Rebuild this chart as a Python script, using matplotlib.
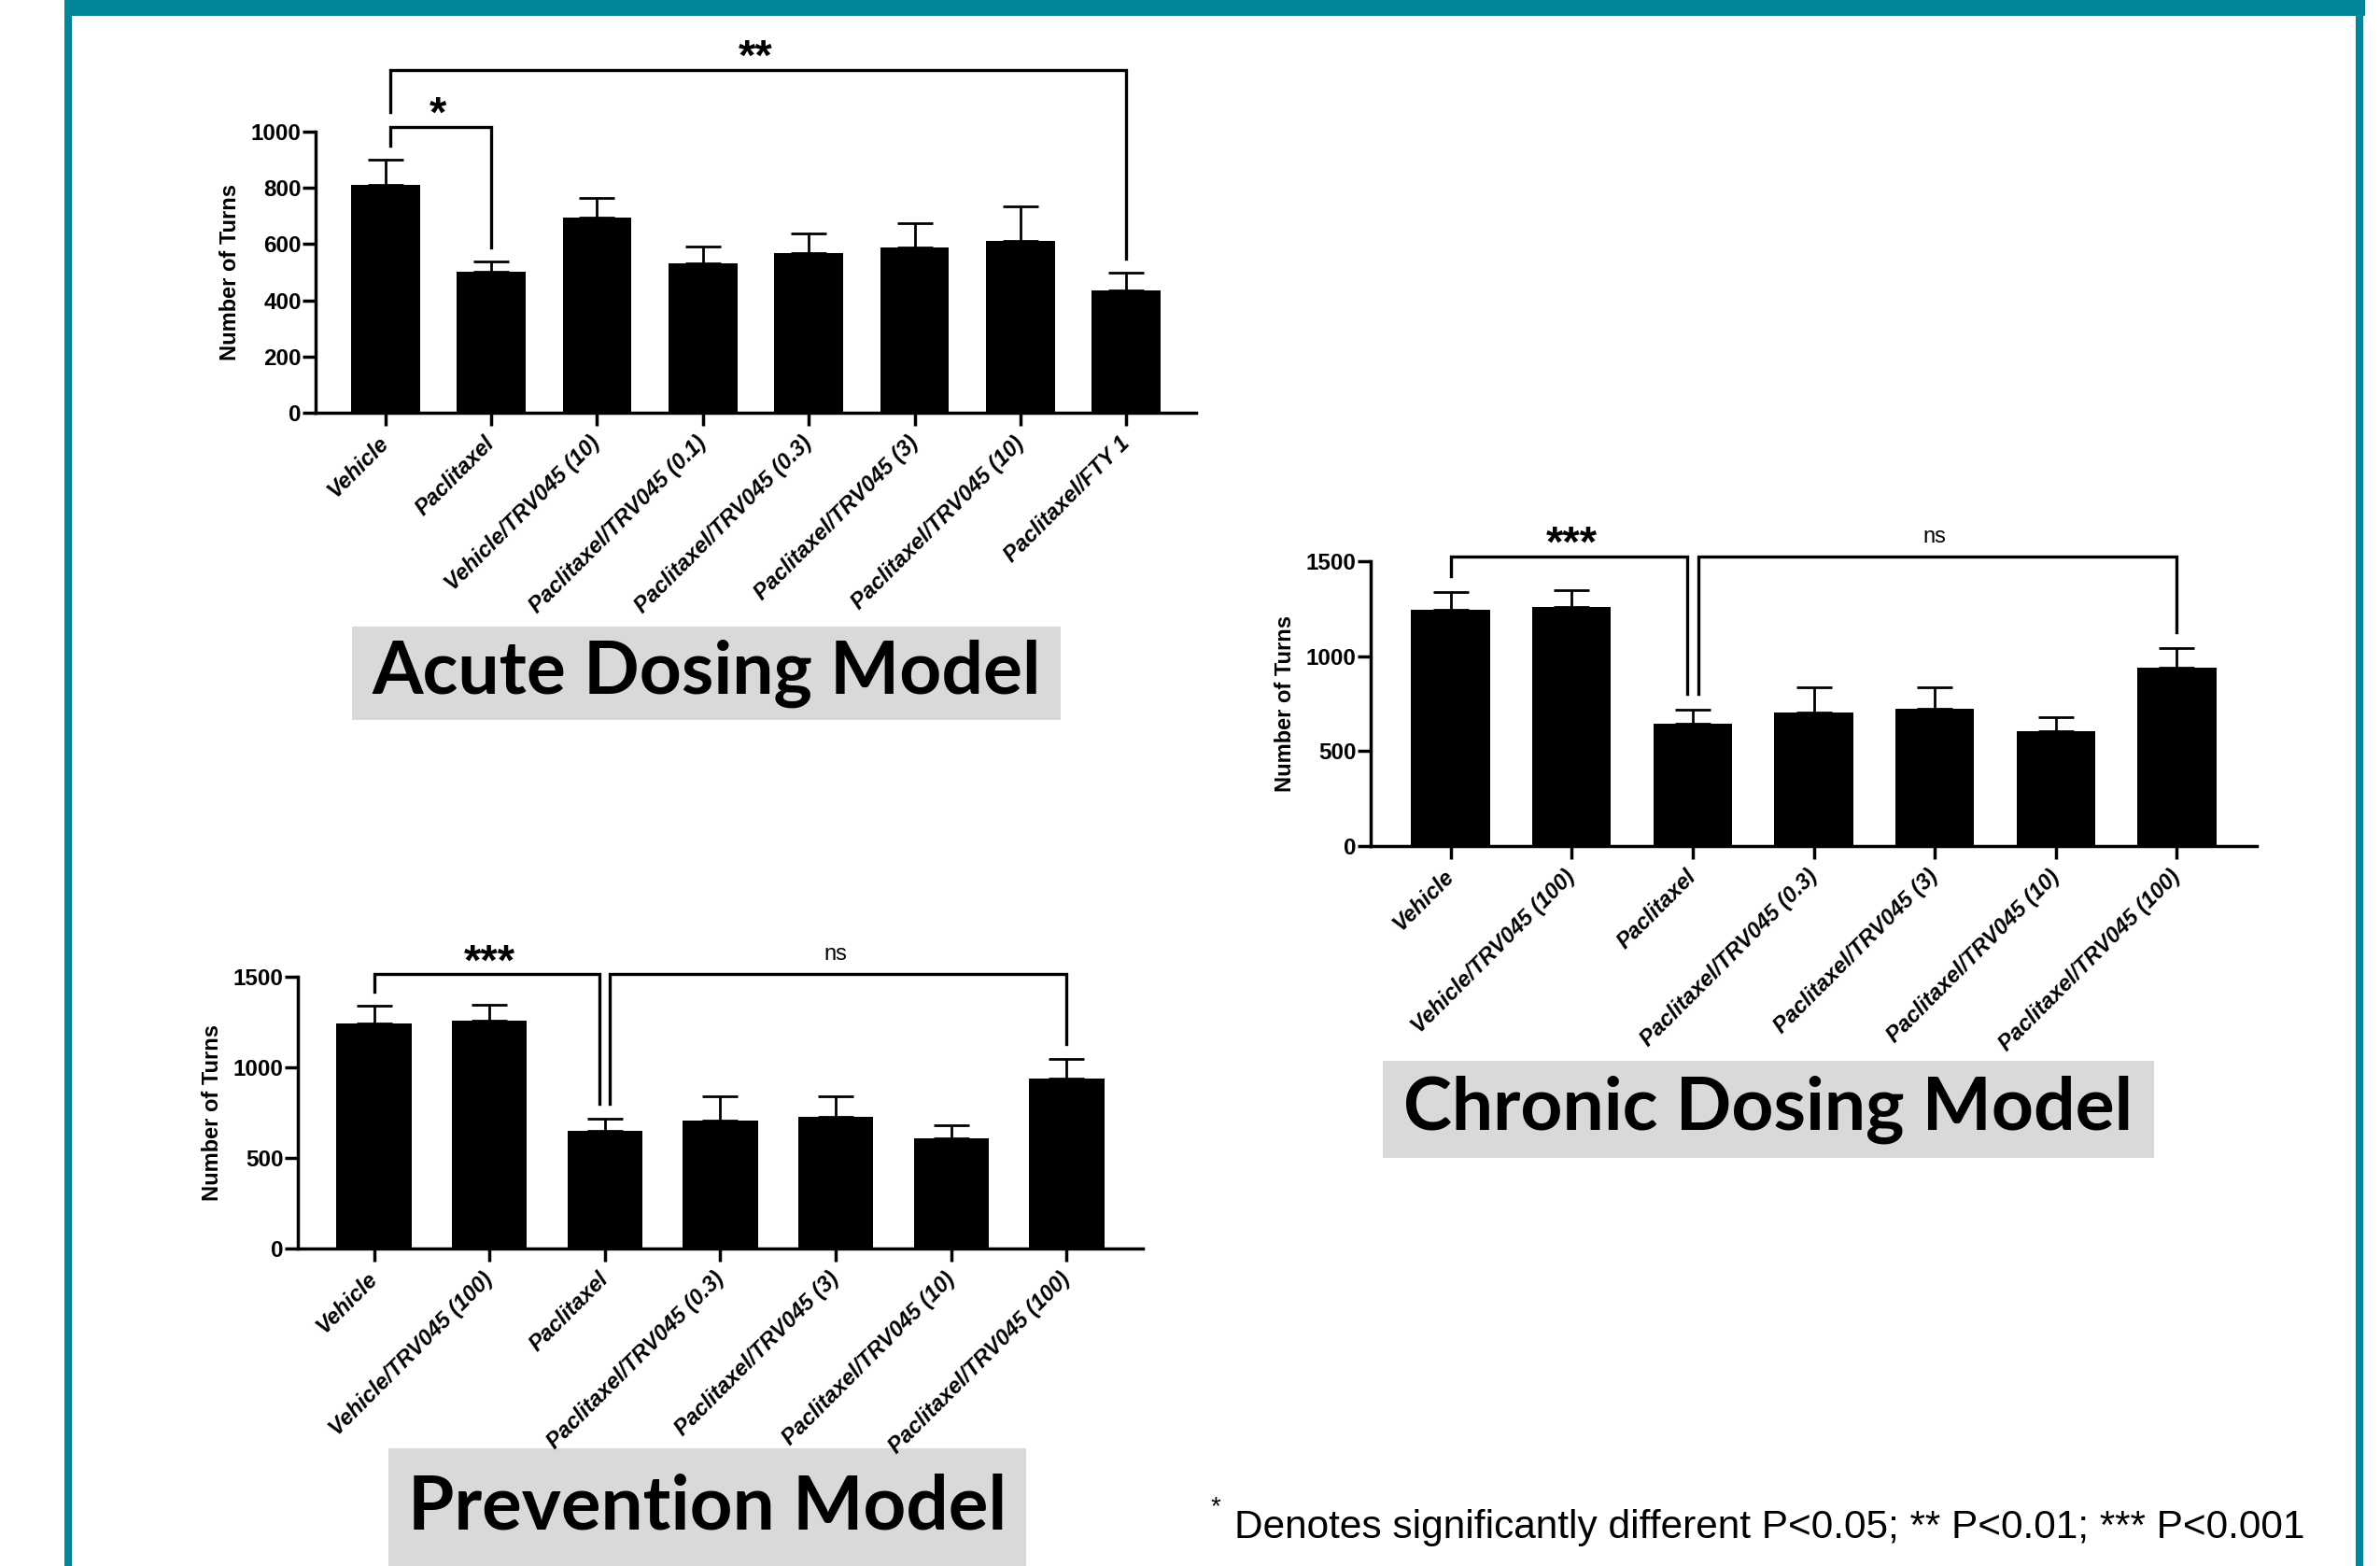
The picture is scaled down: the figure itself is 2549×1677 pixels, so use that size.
import matplotlib
matplotlib.use("Agg")
import matplotlib.pyplot as plt
from matplotlib.patches import Rectangle
import numpy as np

# --- acute dosing model ---
acute_groups = ["Vehicle", "Paclitaxel", "Vehicle/TRV045 (10)", "Paclitaxel/TRV045 (0.1)",
                "Paclitaxel/TRV045 (0.3)", "Paclitaxel/TRV045 (3)", "Paclitaxel/TRV045 (10)",
                "Paclitaxel/FTY 1"]
acute_mean = [810, 502, 696, 531, 567, 588, 611, 436]
acute_sem = [90, 36, 68, 61, 70, 86, 124, 62]
# (group a, group b, leg a bottom, bracket top, leg b bottom, label)
acute_sig = [(0, 1, 950, 1016, 588, "*"),
             (0, 7, 1069, 1220, 549, "**")]

# --- chronic dosing model ---
chronic_groups = ["Vehicle", "Vehicle/TRV045 (100)", "Paclitaxel", "Paclitaxel/TRV045 (0.3)",
                  "Paclitaxel/TRV045 (3)", "Paclitaxel/TRV045 (10)", "Paclitaxel/TRV045 (100)"]
chronic_mean = [1245, 1260, 645, 704, 725, 607, 940]
chronic_sem = [95, 88, 72, 133, 110, 71, 105]
chronic_sig = [(0, 2, 1423, 1525, 803, "***"),
               (2, 6, 803, 1525, 1127, "ns")]

# --- prevention model ---
prevention_groups = ["Vehicle", "Vehicle/TRV045 (100)", "Paclitaxel", "Paclitaxel/TRV045 (0.3)",
                     "Paclitaxel/TRV045 (3)", "Paclitaxel/TRV045 (10)", "Paclitaxel/TRV045 (100)"]
prevention_mean = [1244, 1256, 647, 705, 726, 609, 938]
prevention_sem = [94, 89, 69, 133, 112, 72, 106]
prevention_sig = [(0, 2, 1419, 1514, 800, "***"),
                  (2, 6, 800, 1514, 1127, "ns")]

W, H = 2549, 1677
TEAL = "#038699"
ARIAL = ["Liberation Sans", "DejaVu Sans"]

fig = plt.figure(figsize=(W / 100, H / 100), dpi=100)

# page frame and caption boxes drawn in pixel coordinates
bg = fig.add_axes([0, 0, 1, 1])
bg.set_xlim(0, W)
bg.set_ylim(H, 0)
bg.axis("off")
bg.add_patch(Rectangle((69, 0), 2533 - 69, 17, color=TEAL, lw=0))
bg.add_patch(Rectangle((69, 0), 8, H, color=TEAL, lw=0))
bg.add_patch(Rectangle((2523, 0), 8, H, color=TEAL, lw=0))


def caption(x0, y0, x1, y1, text, size):
    bg.add_patch(Rectangle((x0, y0), x1 - x0, y1 - y0, color="#d9d9d9", lw=0))
    bg.text((x0 + x1) / 2, (y0 + y1) / 2, text, ha="center", va="center",
            fontsize=size, fontweight="bold", family=["Lato", "DejaVu Sans"])


caption(377, 671, 1136, 771, "Acute Dosing Model", 56.5)
caption(1481, 1136, 2307, 1240, "Chronic Dosing Model", 56.5)
caption(416, 1551, 1099, 1677, "Prevention Model", 57.5)

bg.text(1297, 1614, "*", fontsize=20, family=ARIAL, ha="left", va="center")
bg.text(1322, 1636, "Denotes significantly different P<0.05; ** P<0.01; *** P<0.001",
        fontsize=30.5, family=ARIAL, ha="left", va="center")


def bar_panel(px, groups, mean, sem, sig, ymax, ystep):
    left, top, right, bottom = px
    ax = fig.add_axes([left / W, 1 - bottom / H, (right - left) / W, (bottom - top) / H])
    ax.patch.set_visible(False)
    x = np.arange(len(groups))
    ax.bar(x, mean, width=0.65, color="black", zorder=2)
    ax.errorbar(x, mean, yerr=[np.zeros(len(sem)), sem], fmt="none", ecolor="black",
                elinewidth=2, capsize=14, capthick=2, zorder=1)
    ax.set_xlim(-0.66, len(groups) - 1 + 0.66)
    ax.set_ylim(0, ymax)
    ax.set_yticks(np.arange(0, ymax + 1, ystep))
    ax.set_xticks(x)
    ax.set_xticklabels(groups, rotation=45, ha="right", va="center", rotation_mode="anchor",
                       fontsize=17, fontweight="bold", fontstyle="italic", family=ARIAL)
    for t in ax.get_yticklabels():
        t.set_fontsize(17.5)
        t.set_fontweight("bold")
        t.set_family(ARIAL)
    for s in ["top", "right"]:
        ax.spines[s].set_visible(False)
    for s in ["left", "bottom"]:
        ax.spines[s].set_linewidth(2.5)
    ax.tick_params(axis="y", length=10, width=2.5, pad=1)
    ax.tick_params(axis="x", length=10, width=2.5, pad=11)
    ax.set_ylabel("Number of Turns", fontsize=17, fontweight="bold", family=ARIAL)
    ax.yaxis.set_label_coords(-80 / (right - left), 0.5)

    # significance brackets, shared legs are nudged apart
    shared = {}
    for a, b, *_ in sig:
        shared[a] = shared.get(a, 0) + 1
        shared[b] = shared.get(b, 0) + 1
    for a, b, ya, ytop, yb, label in sig:
        xa = a + (0.045 if shared[a] > 1 else 0)
        xb = b - (0.045 if shared[b] > 1 else 0)
        ax.plot([xa, xa, xb, xb], [ya, ytop, ytop, yb], color="black", lw=2.4,
                clip_on=False, solid_joinstyle="miter")
        if label == "ns":
            ax.annotate(label, ((a + b) / 2, ytop), xytext=(0, 11), textcoords="offset points",
                        ha="center", va="baseline", fontsize=17, family=ARIAL,
                        annotation_clip=False)
        else:
            ax.annotate(label, ((a + b) / 2, ytop), xytext=(0, 0), textcoords="offset points",
                        ha="center", va="baseline", fontsize=34, fontweight="bold", family=ARIAL,
                        annotation_clip=False)
    return ax


bar_panel((338, 141, 1281, 442), acute_groups, acute_mean, acute_sem, acute_sig, 1000, 200)
bar_panel((1468, 601, 2417, 906), chronic_groups, chronic_mean, chronic_sem, chronic_sig, 1500, 500)
bar_panel((319, 1046, 1224, 1337), prevention_groups, prevention_mean, prevention_sem,
          prevention_sig, 1500, 500)

fig.savefig("out.png", dpi=100)
